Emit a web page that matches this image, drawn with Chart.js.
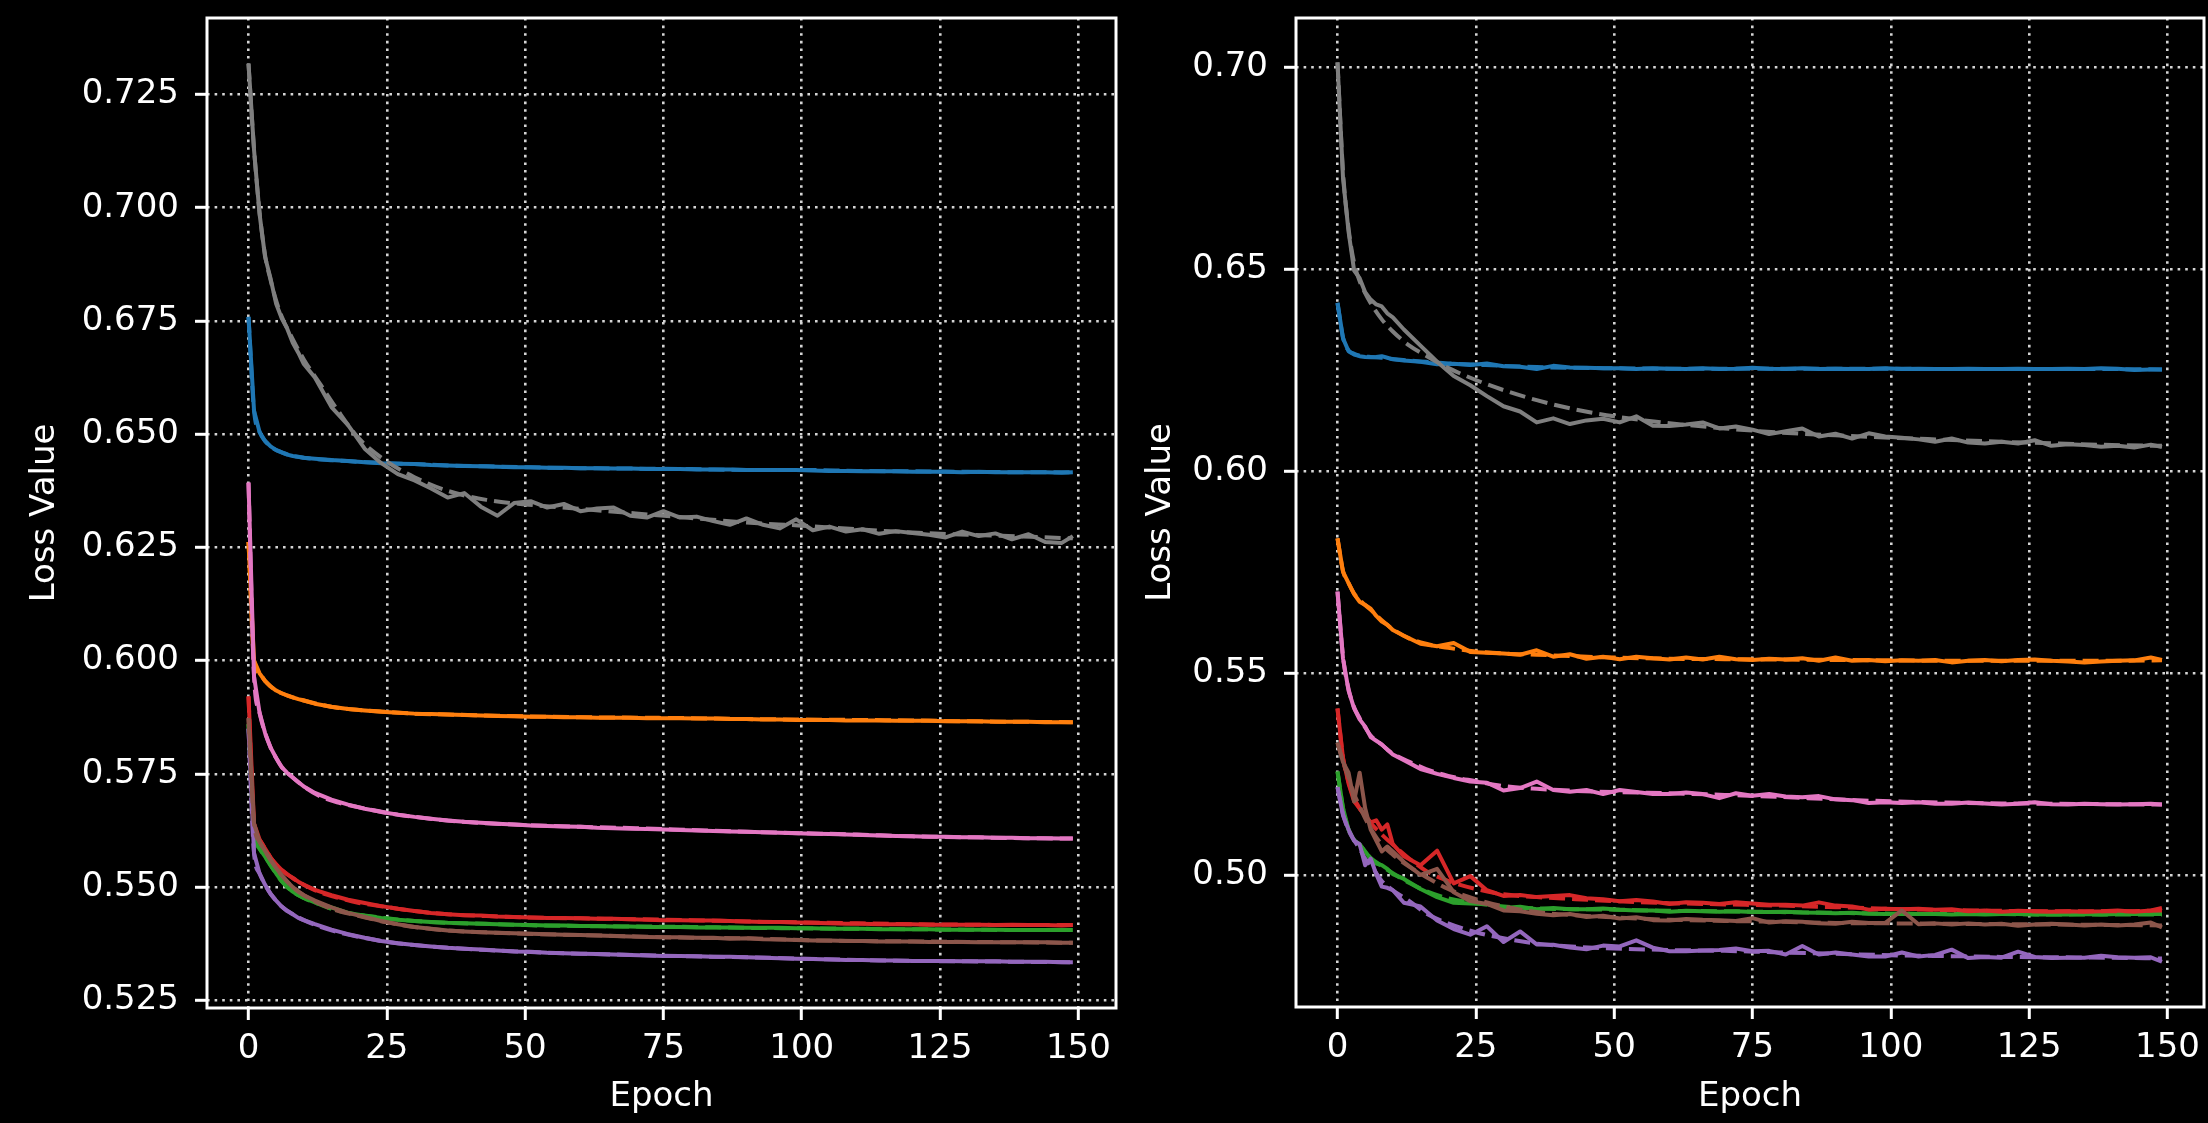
<!DOCTYPE html>
<html>
<head>
<meta charset="utf-8">
<title>Loss curves</title>
<script src="https://cdn.jsdelivr.net/npm/chart.js@4/dist/chart.umd.min.js"></script>
<style>
	html, body { margin: 0; padding: 0; background: #000; }
	#wrap { position: relative; width: 2208px; height: 1123px; overflow: hidden; background: #000; }
	#left { position: absolute; left: 0; top: 0; width: 1120px; height: 1123px; }
	#right { position: absolute; left: 1120px; top: 0; width: 1088px; height: 1123px; }
</style>
</head>
<body>
<div id="wrap">
	<canvas id="left" width="1120" height="1123"></canvas>
	<canvas id="right" width="1088" height="1123"></canvas>
</div>
<script>
// epochs sampled for the solid (noisy) curves and for the dashed (smooth) curves
var EPOCHS = [0, 1, 2, 3, 4, 5, 6, 7, 8, 9, 10,
	12, 15, 18, 21, 24, 27, 30, 33, 36, 39, 42, 45,
	48, 51, 54, 57, 60, 63, 66, 69, 72, 75, 78, 81,
	84, 87, 90, 93, 96, 99, 102, 105, 108, 111, 114, 117,
	120, 123, 126, 129, 132, 135, 138, 141, 144, 147, 149];
var EPOCHS_SMOOTH = [0, 1, 2, 3, 4, 5, 6, 8, 10,
	13, 16, 20, 25, 30, 36, 43, 50, 60,
	70, 80, 90, 100, 110, 120, 130, 140, 149];

var X_TICKS = [0, 25, 50, 75, 100, 125, 150];
var LEFT_Y_TICKS = [0.525, 0.550, 0.575, 0.600, 0.625, 0.650, 0.675, 0.700, 0.725];
var RIGHT_Y_TICKS = [0.50, 0.55, 0.60, 0.65, 0.70];

// ---- left panel ----
var L_BLUE = [0.6759, 0.6552, 0.6505, 0.6485, 0.6473, 0.6465, 0.6460, 0.6455, 0.6452, 0.6450, 0.6448,
	0.6446, 0.6443, 0.6441, 0.6438, 0.6436, 0.6435, 0.6434, 0.6432, 0.6431, 0.6430, 0.6429, 0.6428,
	0.6427, 0.6427, 0.6426, 0.6426, 0.6425, 0.6425, 0.6424, 0.6424, 0.6423, 0.6423, 0.6423, 0.6422,
	0.6422, 0.6422, 0.6421, 0.6421, 0.6421, 0.6421, 0.6420, 0.6419, 0.6419, 0.6418, 0.6418, 0.6418,
	0.6417, 0.6417, 0.6417, 0.6416, 0.6417, 0.6416, 0.6416, 0.6416, 0.6416, 0.6415, 0.6416];
var L_ORANGE = [0.6262, 0.6000, 0.5972, 0.5955, 0.5943, 0.5934, 0.5928, 0.5923, 0.5919, 0.5915, 0.5912,
	0.5905, 0.5898, 0.5893, 0.5890, 0.5887, 0.5885, 0.5883, 0.5882, 0.5881, 0.5880, 0.5879, 0.5878,
	0.5877, 0.5876, 0.5876, 0.5875, 0.5875, 0.5874, 0.5874, 0.5874, 0.5873, 0.5873, 0.5873, 0.5872,
	0.5872, 0.5871, 0.5871, 0.5870, 0.5870, 0.5869, 0.5869, 0.5869, 0.5868, 0.5868, 0.5868, 0.5867,
	0.5867, 0.5867, 0.5866, 0.5866, 0.5866, 0.5865, 0.5865, 0.5865, 0.5864, 0.5864, 0.5864];
var L_GREEN = [0.5860, 0.5620, 0.5585, 0.5567, 0.5548, 0.5530, 0.5513, 0.5500, 0.5490, 0.5482, 0.5476,
	0.5466, 0.5455, 0.5443, 0.5437, 0.5432, 0.5428, 0.5425, 0.5423, 0.5421, 0.5420, 0.5419, 0.5418,
	0.5417, 0.5416, 0.5415, 0.5415, 0.5414, 0.5414, 0.5413, 0.5413, 0.5412, 0.5412, 0.5412, 0.5411,
	0.5411, 0.5411, 0.5410, 0.5410, 0.5410, 0.5409, 0.5409, 0.5408, 0.5408, 0.5408, 0.5407, 0.5407,
	0.5407, 0.5407, 0.5406, 0.5406, 0.5406, 0.5406, 0.5405, 0.5405, 0.5405, 0.5405, 0.5405];
var L_RED = [0.5921, 0.5640, 0.5605, 0.5585, 0.5565, 0.5550, 0.5538, 0.5528, 0.5520, 0.5512, 0.5505,
	0.5494, 0.5482, 0.5472, 0.5465, 0.5458, 0.5452, 0.5447, 0.5443, 0.5440, 0.5438, 0.5437, 0.5435,
	0.5434, 0.5433, 0.5432, 0.5432, 0.5431, 0.5430, 0.5430, 0.5429, 0.5428, 0.5427, 0.5427, 0.5426,
	0.5426, 0.5425, 0.5424, 0.5423, 0.5423, 0.5422, 0.5421, 0.5420, 0.5419, 0.5419, 0.5418, 0.5418,
	0.5418, 0.5417, 0.5417, 0.5417, 0.5417, 0.5416, 0.5417, 0.5416, 0.5416, 0.5415, 0.5416];
var L_PURPLE = [0.5850, 0.5575, 0.5530, 0.5505, 0.5485, 0.5470, 0.5457, 0.5447, 0.5440, 0.5432, 0.5427,
	0.5418, 0.5406, 0.5396, 0.5388, 0.5381, 0.5376, 0.5372, 0.5369, 0.5366, 0.5364, 0.5362, 0.5360,
	0.5358, 0.5357, 0.5355, 0.5354, 0.5353, 0.5352, 0.5351, 0.5350, 0.5349, 0.5348, 0.5348, 0.5347,
	0.5346, 0.5346, 0.5345, 0.5344, 0.5343, 0.5342, 0.5341, 0.5340, 0.5339, 0.5339, 0.5338, 0.5338,
	0.5337, 0.5337, 0.5337, 0.5336, 0.5336, 0.5336, 0.5335, 0.5335, 0.5335, 0.5334, 0.5334];
var L_BROWN = [0.5873, 0.5640, 0.5600, 0.5580, 0.5560, 0.5542, 0.5526, 0.5512, 0.5500, 0.5490, 0.5482,
	0.5470, 0.5455, 0.5443, 0.5434, 0.5425, 0.5418, 0.5412, 0.5408, 0.5404, 0.5402, 0.5400, 0.5399,
	0.5398, 0.5397, 0.5396, 0.5395, 0.5394, 0.5393, 0.5392, 0.5391, 0.5390, 0.5389, 0.5389, 0.5388,
	0.5388, 0.5386, 0.5387, 0.5385, 0.5384, 0.5383, 0.5382, 0.5382, 0.5381, 0.5381, 0.5380, 0.5380,
	0.5380, 0.5379, 0.5379, 0.5379, 0.5378, 0.5378, 0.5378, 0.5378, 0.5378, 0.5377, 0.5377];
var L_PINK = [0.6393, 0.5965, 0.5885, 0.5840, 0.5808, 0.5785, 0.5765, 0.5752, 0.5742, 0.5732, 0.5722,
	0.5708, 0.5693, 0.5682, 0.5673, 0.5666, 0.5660, 0.5655, 0.5651, 0.5647, 0.5644, 0.5642, 0.5640,
	0.5638, 0.5636, 0.5635, 0.5634, 0.5633, 0.5631, 0.5630, 0.5629, 0.5628, 0.5627, 0.5626, 0.5625,
	0.5624, 0.5623, 0.5622, 0.5621, 0.5620, 0.5619, 0.5618, 0.5617, 0.5616, 0.5615, 0.5614, 0.5613,
	0.5612, 0.5611, 0.5611, 0.5610, 0.5610, 0.5609, 0.5609, 0.5608, 0.5608, 0.5607, 0.5607];
var L_GRAY = [0.7318, 0.7128, 0.6986, 0.6891, 0.6843, 0.6788, 0.6756, 0.6733, 0.6702, 0.6680, 0.6655,
	0.6625, 0.6560, 0.6520, 0.6468, 0.6436, 0.6412, 0.6398, 0.6380, 0.6360, 0.6370, 0.6340, 0.6320,
	0.6348, 0.6352, 0.6338, 0.6346, 0.6330, 0.6336, 0.6338, 0.6320, 0.6316, 0.6330, 0.6316, 0.6318,
	0.6308, 0.6300, 0.6314, 0.6300, 0.6292, 0.6312, 0.6288, 0.6296, 0.6285, 0.6290, 0.6280, 0.6286,
	0.6282, 0.6278, 0.6272, 0.6285, 0.6275, 0.6281, 0.6268, 0.6279, 0.6262, 0.6260, 0.6275];

var L_BLUE_DASH = [0.6759, 0.6552, 0.6505, 0.6485, 0.6473, 0.6465, 0.6460, 0.6452, 0.6448,
	0.6444, 0.6442, 0.6439, 0.6436, 0.6434, 0.6431, 0.6429, 0.6427, 0.6425,
	0.6424, 0.6423, 0.6421, 0.6421, 0.6419, 0.6418, 0.6417, 0.6416, 0.6416];
var L_ORANGE_DASH = [0.6262, 0.6000, 0.5972, 0.5955, 0.5943, 0.5934, 0.5928, 0.5919, 0.5912,
	0.5903, 0.5896, 0.5891, 0.5887, 0.5883, 0.5881, 0.5879, 0.5877, 0.5875,
	0.5874, 0.5873, 0.5871, 0.5870, 0.5869, 0.5868, 0.5866, 0.5865, 0.5864];
var L_GREEN_DASH = [0.5860, 0.5620, 0.5585, 0.5567, 0.5548, 0.5530, 0.5513, 0.5490, 0.5476,
	0.5461, 0.5448, 0.5439, 0.5431, 0.5425, 0.5421, 0.5419, 0.5416, 0.5414,
	0.5413, 0.5412, 0.5410, 0.5409, 0.5408, 0.5407, 0.5406, 0.5405, 0.5405];
var L_RED_DASH = [0.5921, 0.5640, 0.5605, 0.5585, 0.5565, 0.5550, 0.5538, 0.5520, 0.5505,
	0.5488, 0.5477, 0.5465, 0.5456, 0.5447, 0.5440, 0.5436, 0.5433, 0.5431,
	0.5429, 0.5427, 0.5424, 0.5422, 0.5420, 0.5418, 0.5417, 0.5416, 0.5416];
var L_PURPLE_DASH = [0.5850, 0.5575, 0.5530, 0.5505, 0.5485, 0.5470, 0.5457, 0.5440, 0.5427,
	0.5412, 0.5401, 0.5390, 0.5379, 0.5372, 0.5366, 0.5361, 0.5357, 0.5353,
	0.5350, 0.5347, 0.5345, 0.5342, 0.5339, 0.5337, 0.5336, 0.5335, 0.5334];
var L_BROWN_DASH = [0.5873, 0.5640, 0.5600, 0.5580, 0.5560, 0.5542, 0.5526, 0.5500, 0.5482,
	0.5462, 0.5448, 0.5436, 0.5422, 0.5412, 0.5404, 0.5400, 0.5397, 0.5394,
	0.5391, 0.5388, 0.5387, 0.5383, 0.5381, 0.5380, 0.5379, 0.5378, 0.5377];
var L_PINK_DASH = [0.6393, 0.5965, 0.5885, 0.5840, 0.5808, 0.5785, 0.5765, 0.5742, 0.5722,
	0.5700, 0.5687, 0.5676, 0.5664, 0.5655, 0.5647, 0.5641, 0.5637, 0.5633,
	0.5630, 0.5626, 0.5622, 0.5619, 0.5616, 0.5612, 0.5610, 0.5608, 0.5607];
var L_GRAY_DASH = [0.7318, 0.7130, 0.6990, 0.6895, 0.6840, 0.6795, 0.6760, 0.6710, 0.6665,
	0.6610, 0.6555, 0.6490, 0.6440, 0.6405, 0.6375, 0.6355, 0.6345, 0.6335,
	0.6325, 0.6315, 0.6305, 0.6298, 0.6290, 0.6283, 0.6278, 0.6274, 0.6270];

// ---- right panel ----
var R_BLUE = [0.6416, 0.6328, 0.6296, 0.6288, 0.6284, 0.6282, 0.6281, 0.6282, 0.6284, 0.6280, 0.6276,
	0.6273, 0.6270, 0.6264, 0.6265, 0.6262, 0.6266, 0.6259, 0.6258, 0.6252, 0.6260, 0.6256, 0.6255,
	0.6254, 0.6254, 0.6252, 0.6254, 0.6253, 0.6252, 0.6254, 0.6252, 0.6253, 0.6255, 0.6253, 0.6252,
	0.6254, 0.6252, 0.6253, 0.6252, 0.6252, 0.6254, 0.6252, 0.6253, 0.6252, 0.6252, 0.6253, 0.6252,
	0.6252, 0.6253, 0.6252, 0.6252, 0.6253, 0.6252, 0.6254, 0.6253, 0.6250, 0.6251, 0.6251];
var R_ORANGE = [0.5833, 0.5750, 0.5722, 0.5695, 0.5676, 0.5668, 0.5659, 0.5641, 0.5627, 0.5619, 0.5606,
	0.5592, 0.5572, 0.5566, 0.5574, 0.5552, 0.5550, 0.5548, 0.5545, 0.5556, 0.5540, 0.5546, 0.5535,
	0.5540, 0.5534, 0.5540, 0.5536, 0.5533, 0.5538, 0.5533, 0.5540, 0.5534, 0.5532, 0.5535, 0.5533,
	0.5536, 0.5530, 0.5538, 0.5530, 0.5532, 0.5529, 0.5531, 0.5530, 0.5532, 0.5526, 0.5530, 0.5532,
	0.5529, 0.5532, 0.5533, 0.5530, 0.5528, 0.5526, 0.5528, 0.5530, 0.5531, 0.5538, 0.5532];
var R_GREEN = [0.5256, 0.5165, 0.5112, 0.5085, 0.5076, 0.5058, 0.5040, 0.5028, 0.5024, 0.5015, 0.5002,
	0.4990, 0.4965, 0.4945, 0.4931, 0.4929, 0.4928, 0.4918, 0.4921, 0.4915, 0.4918, 0.4915, 0.4915,
	0.4917, 0.4914, 0.4912, 0.4912, 0.4909, 0.4911, 0.4910, 0.4909, 0.4910, 0.4908, 0.4908, 0.4909,
	0.4907, 0.4906, 0.4905, 0.4906, 0.4904, 0.4903, 0.4904, 0.4903, 0.4903, 0.4902, 0.4903, 0.4902,
	0.4903, 0.4903, 0.4902, 0.4902, 0.4902, 0.4903, 0.4902, 0.4903, 0.4903, 0.4903, 0.4903];
var R_RED = [0.5412, 0.5288, 0.5226, 0.5182, 0.5164, 0.5147, 0.5130, 0.5135, 0.5112, 0.5125, 0.5076,
	0.5046, 0.5024, 0.5060, 0.4979, 0.4997, 0.4962, 0.4948, 0.4950, 0.4945, 0.4948, 0.4950, 0.4942,
	0.4940, 0.4935, 0.4938, 0.4934, 0.4928, 0.4932, 0.4931, 0.4928, 0.4932, 0.4929, 0.4926, 0.4926,
	0.4924, 0.4932, 0.4924, 0.4922, 0.4914, 0.4916, 0.4915, 0.4916, 0.4914, 0.4915, 0.4910, 0.4912,
	0.4909, 0.4911, 0.4910, 0.4909, 0.4910, 0.4909, 0.4910, 0.4912, 0.4909, 0.4912, 0.4918];
var R_PURPLE = [0.5217, 0.5147, 0.5112, 0.5085, 0.5076, 0.5024, 0.5040, 0.5002, 0.4971, 0.4968, 0.4962,
	0.4931, 0.4922, 0.4887, 0.4866, 0.4852, 0.4873, 0.4834, 0.4860, 0.4828, 0.4827, 0.4820, 0.4816,
	0.4825, 0.4823, 0.4838, 0.4820, 0.4811, 0.4811, 0.4813, 0.4814, 0.4818, 0.4811, 0.4812, 0.4803,
	0.4824, 0.4803, 0.4808, 0.4803, 0.4798, 0.4798, 0.4808, 0.4798, 0.4802, 0.4815, 0.4794, 0.4797,
	0.4795, 0.4810, 0.4797, 0.4794, 0.4795, 0.4795, 0.4800, 0.4796, 0.4795, 0.4796, 0.4785];
var R_BROWN = [0.5327, 0.5279, 0.5253, 0.5182, 0.5253, 0.5165, 0.5112, 0.5085, 0.5058, 0.5070, 0.5058,
	0.5032, 0.5000, 0.5015, 0.4957, 0.4935, 0.4928, 0.4912, 0.4910, 0.4904, 0.4900, 0.4903, 0.4896,
	0.4899, 0.4892, 0.4895, 0.4888, 0.4887, 0.4891, 0.4889, 0.4888, 0.4886, 0.4893, 0.4882, 0.4885,
	0.4884, 0.4880, 0.4879, 0.4884, 0.4881, 0.4881, 0.4912, 0.4878, 0.4880, 0.4877, 0.4880, 0.4877,
	0.4879, 0.4874, 0.4877, 0.4879, 0.4877, 0.4875, 0.4877, 0.4875, 0.4877, 0.4882, 0.4870];
var R_PINK = [0.5701, 0.5535, 0.5456, 0.5412, 0.5385, 0.5367, 0.5341, 0.5332, 0.5323, 0.5310, 0.5298,
	0.5284, 0.5262, 0.5250, 0.5240, 0.5231, 0.5228, 0.5209, 0.5215, 0.5231, 0.5210, 0.5206, 0.5210,
	0.5200, 0.5210, 0.5205, 0.5200, 0.5200, 0.5204, 0.5200, 0.5190, 0.5202, 0.5196, 0.5200, 0.5194,
	0.5192, 0.5195, 0.5187, 0.5185, 0.5178, 0.5180, 0.5178, 0.5180, 0.5176, 0.5176, 0.5179, 0.5177,
	0.5174, 0.5176, 0.5180, 0.5175, 0.5174, 0.5176, 0.5175, 0.5174, 0.5175, 0.5176, 0.5174];
var R_GRAY = [0.7011, 0.6724, 0.6592, 0.6496, 0.6477, 0.6442, 0.6424, 0.6412, 0.6407, 0.6390, 0.6380,
	0.6350, 0.6310, 0.6270, 0.6235, 0.6212, 0.6185, 0.6160, 0.6147, 0.6120, 0.6130, 0.6116, 0.6125,
	0.6129, 0.6120, 0.6135, 0.6112, 0.6111, 0.6115, 0.6120, 0.6105, 0.6110, 0.6102, 0.6091, 0.6098,
	0.6105, 0.6085, 0.6092, 0.6080, 0.6093, 0.6085, 0.6082, 0.6078, 0.6072, 0.6080, 0.6070, 0.6068,
	0.6072, 0.6068, 0.6076, 0.6062, 0.6066, 0.6064, 0.6060, 0.6062, 0.6058, 0.6065, 0.6059];

var R_BLUE_DASH = [0.6416, 0.6330, 0.6298, 0.6290, 0.6285, 0.6283, 0.6282, 0.6280, 0.6277,
	0.6273, 0.6270, 0.6266, 0.6263, 0.6260, 0.6257, 0.6255, 0.6254, 0.6253,
	0.6253, 0.6253, 0.6253, 0.6253, 0.6252, 0.6252, 0.6252, 0.6252, 0.6251];
var R_ORANGE_DASH = [0.5833, 0.5752, 0.5722, 0.5696, 0.5680, 0.5668, 0.5656, 0.5630, 0.5608,
	0.5585, 0.5572, 0.5562, 0.5553, 0.5548, 0.5545, 0.5541, 0.5538, 0.5535,
	0.5534, 0.5533, 0.5532, 0.5531, 0.5530, 0.5530, 0.5530, 0.5530, 0.5531];
var R_GREEN_DASH = [0.5256, 0.5165, 0.5112, 0.5087, 0.5074, 0.5058, 0.5042, 0.5022, 0.5004,
	0.4980, 0.4960, 0.4942, 0.4930, 0.4922, 0.4917, 0.4915, 0.4914, 0.4911,
	0.4910, 0.4908, 0.4906, 0.4904, 0.4903, 0.4903, 0.4902, 0.4902, 0.4902];
var R_RED_DASH = [0.5412, 0.5290, 0.5230, 0.5190, 0.5165, 0.5145, 0.5128, 0.5100, 0.5075,
	0.5040, 0.5010, 0.4985, 0.4965, 0.4952, 0.4945, 0.4940, 0.4935, 0.4930,
	0.4927, 0.4924, 0.4920, 0.4916, 0.4913, 0.4911, 0.4910, 0.4910, 0.4912];
var R_PURPLE_DASH = [0.5217, 0.5150, 0.5110, 0.5085, 0.5065, 0.5040, 0.5025, 0.4985, 0.4962,
	0.4935, 0.4905, 0.4880, 0.4858, 0.4843, 0.4830, 0.4822, 0.4818, 0.4814,
	0.4812, 0.4808, 0.4805, 0.4801, 0.4799, 0.4797, 0.4796, 0.4795, 0.4793];
var R_BROWN_DASH = [0.5327, 0.5280, 0.5240, 0.5200, 0.5170, 0.5140, 0.5115, 0.5075, 0.5050,
	0.5020, 0.4995, 0.4965, 0.4940, 0.4922, 0.4908, 0.4900, 0.4895, 0.4889,
	0.4886, 0.4884, 0.4881, 0.4880, 0.4879, 0.4878, 0.4877, 0.4876, 0.4875];
var R_PINK_DASH = [0.5701, 0.5540, 0.5460, 0.5415, 0.5388, 0.5365, 0.5345, 0.5322, 0.5300,
	0.5280, 0.5262, 0.5245, 0.5232, 0.5220, 0.5213, 0.5208, 0.5205, 0.5202,
	0.5198, 0.5193, 0.5187, 0.5182, 0.5179, 0.5177, 0.5176, 0.5175, 0.5174];
var R_GRAY_DASH = [0.7011, 0.6740, 0.6600, 0.6515, 0.6470, 0.6440, 0.6415, 0.6375, 0.6345,
	0.6310, 0.6285, 0.6255, 0.6225, 0.6200, 0.6175, 0.6152, 0.6135, 0.6118,
	0.6105, 0.6095, 0.6088, 0.6082, 0.6077, 0.6072, 0.6068, 0.6064, 0.6062];

(function () {
	'use strict';

	var COLORS = {
		blue: '#1f77b4',
		orange: '#ff7f0e',
		green: '#2ca02c',
		red: '#d62728',
		purple: '#9467bd',
		brown: '#8c564b',
		pink: '#e377c2',
		gray: '#7f7f7f'
	};
	var FONT = { family: "'DejaVu Sans', sans-serif", size: 34 };
	var GRID_COLOR = '#d4d4d4';
	var LINE_W = 4;

	function toPoints(xs, ys) {
		return xs.map(function (x, i) {
			return { x: x, y: ys[i] };
		});
	}

	function makeDatasets(series) {
		var sets = [];
		series.forEach(function (s) {
			sets.push({
				data: toPoints(EPOCHS, s[1]),
				borderColor: COLORS[s[0]],
				borderWidth: LINE_W,
				borderJoinStyle: 'round',
				pointRadius: 0,
				tension: 0,
				fill: false
			});
			sets.push({
				data: toPoints(EPOCHS_SMOOTH, s[2]),
				borderColor: COLORS[s[0]],
				borderWidth: LINE_W,
				borderDash: [16, 7],
				pointRadius: 0,
				cubicInterpolationMode: 'monotone',
				fill: false
			});
		});
		// chart.js paints dataset 0 last, so reverse to keep gray on top
		return sets.reverse();
	}

	// white box round the plot area
	var framePlugin = {
		id: 'frame',
		afterDatasetsDraw: function (chart) {
			var a = chart.chartArea;
			var ctx = chart.ctx;
			ctx.save();
			ctx.strokeStyle = '#ffffff';
			ctx.lineWidth = 3;
			ctx.strokeRect(a.left, a.top, a.right - a.left, a.bottom - a.top);
			ctx.restore();
		}
	};

	function gridOpts() {
		return {
			color: GRID_COLOR,
			lineWidth: 2.6,
			tickColor: '#ffffff',
			tickWidth: 3,
			tickLength: 12
		};
	}

	function buildChart(id, cfg) {
		var ctx = document.getElementById(id);
		return new Chart(ctx, {
			type: 'line',
			data: { datasets: makeDatasets(cfg.series) },
			plugins: [framePlugin],
			options: {
				responsive: false,
				animation: false,
				events: [],
				layout: {
					padding: { top: 18, right: 4, left: 0, bottom: 0 }
				},
				plugins: {
					legend: { display: false },
					tooltip: { enabled: false }
				},
				scales: {
					x: {
						type: 'linear',
						min: cfg.xMin,
						max: cfg.xMax,
						afterFit: function (scale) {
							scale.height = cfg.xHeight;
							scale.paddingLeft = 0;
							scale.paddingRight = 0;
						},
						afterBuildTicks: function (scale) {
							scale.ticks = X_TICKS.map(function (v) {
								return { value: v };
							});
						},
						ticks: {
							color: '#ffffff',
							font: FONT,
							padding: 9,
							maxRotation: 0,
							autoSkip: false,
							callback: function (value) {
								return String(value);
							}
						},
						grid: gridOpts(),
						border: { display: false, dash: [2.6, 5] },
						title: {
							display: true,
							text: 'Epoch',
							color: '#ffffff',
							font: FONT,
							padding: { top: 0, bottom: 5 }
						}
					},
					y: {
						type: 'linear',
						min: cfg.yMin,
						max: cfg.yMax,
						afterFit: function (scale) {
							scale.width = cfg.yWidth;
							scale.paddingTop = 0;
							scale.paddingBottom = 0;
						},
						afterBuildTicks: function (scale) {
							scale.ticks = cfg.yTicks.map(function (v) {
								return { value: v };
							});
						},
						ticks: {
							color: '#ffffff',
							font: FONT,
							padding: 16,
							autoSkip: false,
							callback: function (value) {
								return value.toFixed(cfg.digits);
							}
						},
						grid: gridOpts(),
						border: { display: false, dash: [2.6, 5] },
						title: {
							display: true,
							text: 'Loss Value',
							color: '#ffffff',
							font: FONT,
							padding: { top: cfg.titlePad, bottom: 0 }
						}
					}
				}
			}
		});
	}

	buildChart('left', {
		series: [
			['blue', L_BLUE, L_BLUE_DASH],
			['orange', L_ORANGE, L_ORANGE_DASH],
			['green', L_GREEN, L_GREEN_DASH],
			['red', L_RED, L_RED_DASH],
			['purple', L_PURPLE, L_PURPLE_DASH],
			['brown', L_BROWN, L_BROWN_DASH],
			['pink', L_PINK, L_PINK_DASH],
			['gray', L_GRAY, L_GRAY_DASH]
		],
		xMin: -7.5,
		xMax: 156.8,
		yMin: 0.5233,
		yMax: 0.7419,
		yTicks: LEFT_Y_TICKS,
		digits: 3,
		yWidth: 207,
		xHeight: 115,
		titlePad: 25
	});

	buildChart('right', {
		series: [
			['blue', R_BLUE, R_BLUE_DASH],
			['orange', R_ORANGE, R_ORANGE_DASH],
			['green', R_GREEN, R_GREEN_DASH],
			['red', R_RED, R_RED_DASH],
			['purple', R_PURPLE, R_PURPLE_DASH],
			['brown', R_BROWN, R_BROWN_DASH],
			['pink', R_PINK, R_PINK_DASH],
			['gray', R_GRAY, R_GRAY_DASH]
		],
		xMin: -7.5,
		xMax: 156.6,
		yMin: 0.4673,
		yMax: 0.7121,
		yTicks: RIGHT_Y_TICKS,
		digits: 2,
		yWidth: 176,
		xHeight: 116,
		titlePad: 21
	});
})();
</script>
</body>
</html>
